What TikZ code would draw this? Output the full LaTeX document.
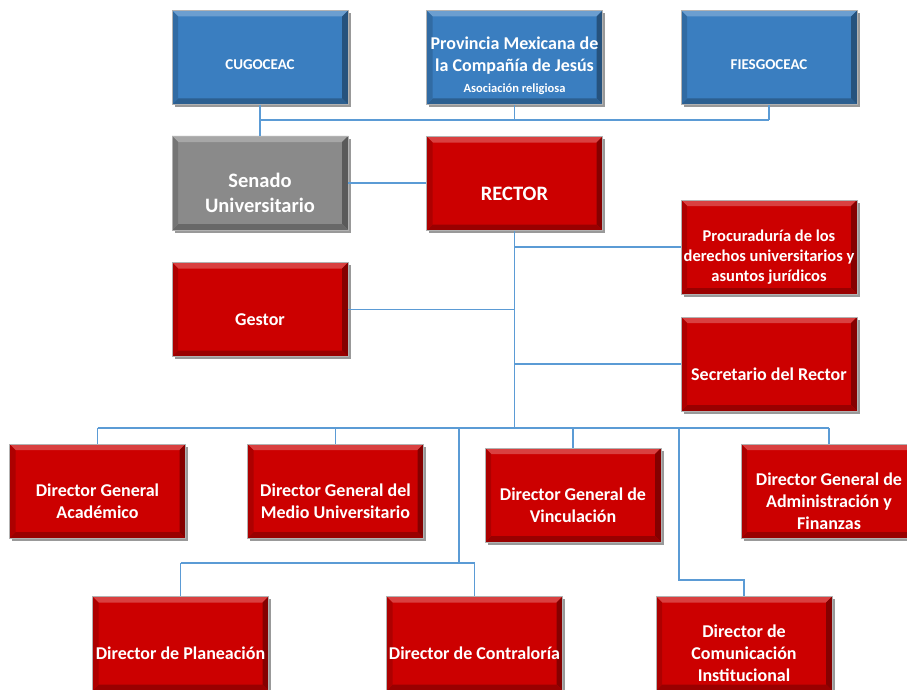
\documentclass[tikz,border=0pt]{standalone}
\usepackage{fontspec}
\setmainfont{Carlito}
\usetikzlibrary{shadows,calc}
\definecolor{boxred}{RGB}{204,0,0}
\definecolor{boxblue}{RGB}{58,126,192}
\definecolor{boxgray}{RGB}{138,138,138}
\definecolor{linkblue}{RGB}{91,155,213}
\tikzset{
  bevelbox/.style={rectangle, inner sep=0pt, minimum width=176pt, minimum height=94pt,
    fill=#1, draw=gray!60, line width=0.6pt,
    drop shadow={shadow xshift=2.5pt,shadow yshift=-2.5pt,opacity=0.4,fill=black},
    path picture={
      \fill[#1!75!white] (path picture bounding box.north west) -- (path picture bounding box.north east)
        -- ([shift={(-6pt,-6pt)}]path picture bounding box.north east) -- ([shift={(6pt,-6pt)}]path picture bounding box.north west) -- cycle;
      \fill[#1!65!black] (path picture bounding box.north east) -- (path picture bounding box.south east)
        -- ([shift={(-6pt,6pt)}]path picture bounding box.south east) -- ([shift={(-6pt,-6pt)}]path picture bounding box.north east) -- cycle;
      \fill[#1!75!black] (path picture bounding box.south west) -- (path picture bounding box.south east)
        -- ([shift={(-6pt,6pt)}]path picture bounding box.south east) -- ([shift={(6pt,6pt)}]path picture bounding box.south west) -- cycle;
      \fill[#1!85!black] (path picture bounding box.north west) -- (path picture bounding box.south west)
        -- ([shift={(6pt,6pt)}]path picture bounding box.south west) -- ([shift={(6pt,-6pt)}]path picture bounding box.north west) -- cycle;
    }},
  redbox/.style={bevelbox=boxred},
  bluebox/.style={bevelbox=boxblue},
  graybox/.style={bevelbox=boxgray},
  txt/.style={text=white, align=center, font=\bfseries\fontsize{18}{22}\selectfont, yshift=-10pt},
  txtL/.style={txt, font=\bfseries\fontsize{20.5}{25}\selectfont},
  txtP/.style={txt, font=\bfseries\fontsize{16.5}{20}\selectfont},
  txtS/.style={txt, font=\bfseries\fontsize{15}{18}\selectfont, yshift=2.5pt},
  conn/.style={draw=linkblue, line width=1.1pt},
}
\begin{document}
\begin{tikzpicture}[x=1pt,y=-1pt]
\clip (0,0) rectangle (907,690);
\fill[white] (0,0) rectangle (907,690);
% coordinates for bus lines
\coordinate (tb) at (0,120);
\coordinate (mb) at (0,428);
\coordinate (b1) at (459,428);
\coordinate (k1) at (459,563);
\coordinate (b2) at (679,428);
\coordinate (k2) at (679,580);

% boxes
\node[bluebox, label={[txtS]center:CUGOCEAC}] (cugo) at (260,57.5) {};
\node[bluebox, label={[txt, yshift=1.5pt]center:{Provincia Mexicana de\\la Compañía de Jesús\\[-1pt]{\fontsize{12.5}{15}\selectfont Asociación religiosa}}}] (prov) at (514.5,57.5) {};
\node[bluebox, label={[txtS]center:FIESGOCEAC}] (fies) at (769,57.5) {};

\node[graybox, label={[txtL]center:{Senado\\Universitario}}] (senado) at (260,183) {};
\node[redbox, label={[txtL]center:RECTOR}] (rector) at (514.5,183.5) {};
\node[redbox, label={[txtP]center:{Procuraduría de los\\derechos universitarios y\\asuntos jurídicos}}] (procu) at (769,247) {};
\node[redbox, label={[txt]center:Gestor}] (gestor) at (260,309.5) {};
\node[redbox, label={[txt]center:Secretario del Rector}] (secre) at (769,364) {};

\node[redbox, label={[txt]center:{Director General\\Académico}}] (acad) at (97.5,491) {};
\node[redbox, label={[txt]center:{Director General del\\Medio Universitario}}] (medio) at (335.5,491) {};
\node[redbox, label={[txt]center:{Director General de\\Vinculación}}] (vinc) at (573,495) {};
\node[redbox, label={[txt]center:{Director General de\\Administración y\\Finanzas}}] (admin) at (829,491) {};

\node[redbox, label={[txt]center:Director de Planeación}] (plan) at (180.5,643.5) {};
\node[redbox, label={[txt]center:Director de Contraloría}] (contra) at (474.5,643.5) {};
\node[redbox, label={[txt]center:{Director de\\Comunicación\\Institucional}}] (comu) at (744,643.5) {};

% connectors between named nodes
\draw[conn] (cugo.south) -- (senado.north);
\draw[conn] (cugo.south |- tb) -- (fies.south |- tb);
\draw[conn] (prov.south) -- (prov.south |- tb);
\draw[conn] (fies.south) -- (fies.south |- tb);
\draw[conn] (senado.east) -- (senado.east -| rector.west);
\draw[conn] (rector.south) -- (rector.south |- mb);
\draw[conn] (rector.south |- procu.west) -- (procu.west);
\draw[conn] (rector.south |- secre.west) -- (secre.west);
\draw[conn] (gestor.east) -- (gestor.east -| rector.south);
\draw[conn] (acad.north |- mb) -- (admin.north |- mb);
\draw[conn] (acad.north |- mb) -- (acad.north);
\draw[conn] (medio.north |- mb) -- (medio.north);
\draw[conn] (vinc.north |- mb) -- (vinc.north);
\draw[conn] (admin.north |- mb) -- (admin.north);
\draw[conn] (b1) -- (k1);
\draw[conn] (plan.north |- k1) -- (contra.north |- k1);
\draw[conn] (plan.north |- k1) -- (plan.north);
\draw[conn] (contra.north |- k1) -- (contra.north);
\draw[conn] (b2) -- (k2) -| (comu.north);
\end{tikzpicture}
\end{document}
